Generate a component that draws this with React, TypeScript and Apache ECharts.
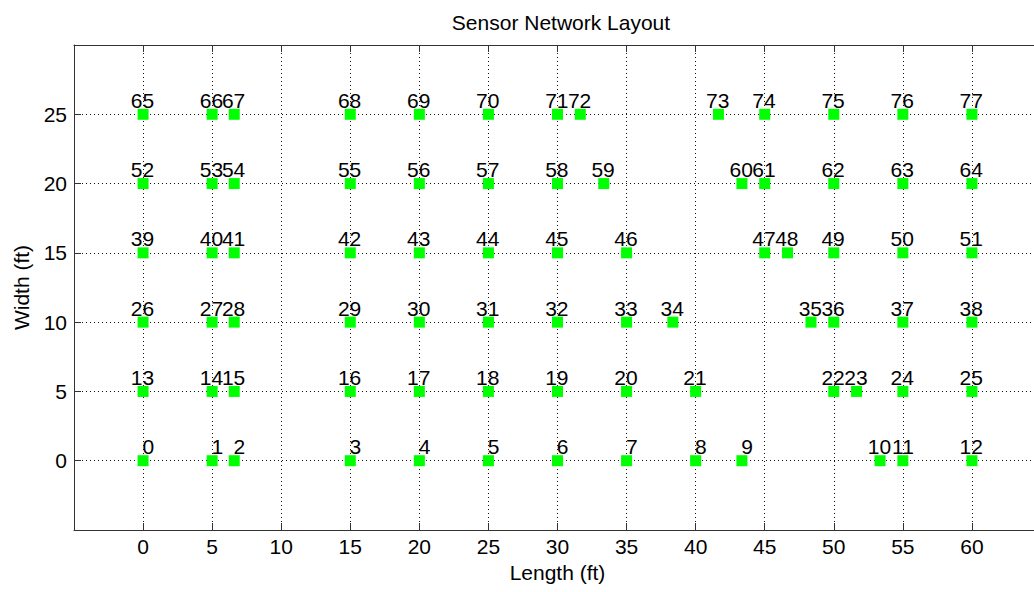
import React, { useEffect, useRef } from "react";
import * as echarts from "echarts";

const titleText = "Sensor Network Layout";
const xName = "Length (ft)";
const yName = "Width (ft)";

// node coordinates, index = node id
const nodeX = [
  0, 5, 6.6, 15, 20, 25, 30, 35, 40, 43.35, 53.35, 55, 60,
  0, 5, 6.6, 15, 20, 25, 30, 35, 40, 50, 51.65, 55, 60,
  0, 5, 6.6, 15, 20, 25, 30, 35, 38.35, 48.35, 50, 55, 60,
  0, 5, 6.6, 15, 20, 25, 30, 35, 45, 46.65, 50, 55, 60,
  0, 5, 6.6, 15, 20, 25, 30, 33.35, 43.35, 45, 50, 55, 60,
  0, 5, 6.6, 15, 20, 25, 30, 31.65, 41.65, 45, 50, 55, 60,
];
const nodeY = [
  0, 0, 0, 0, 0, 0, 0, 0, 0, 0, 0, 0, 0,
  5, 5, 5, 5, 5, 5, 5, 5, 5, 5, 5, 5, 5,
  10, 10, 10, 10, 10, 10, 10, 10, 10, 10, 10, 10, 10,
  15, 15, 15, 15, 15, 15, 15, 15, 15, 15, 15, 15, 15,
  20, 20, 20, 20, 20, 20, 20, 20, 20, 20, 20, 20, 20,
  25, 25, 25, 25, 25, 25, 25, 25, 25, 25, 25, 25, 25,
];

const xMin = -5, xMax = 65, yMin = -5, yMax = 30, step = 5;

const FONT = "Liberation Sans, Arial, Helvetica, sans-serif";
const FS = 21;
const AXIS_COLOR = "#333";

export default function App() {
  const ref = useRef<HTMLDivElement>(null);
  useEffect(() => {
    if (!ref.current) return;
    const chart = echarts.init(ref.current, undefined, { renderer: "svg" });
    const data = nodeX.map((x, i) => [x, nodeY[i], i]);
    const hideEnds = (lo: number, hi: number) => (v: number) =>
      v <= lo || v >= hi ? "" : String(v);
    const dotted = { color: "#111", width: 1, type: [1, 3] as any };
    const baseX = {
      type: "value" as const,
      min: xMin,
      max: xMax,
      interval: step,
      axisLine: { show: true, onZero: false, lineStyle: { color: AXIS_COLOR, width: 1 } },
      axisTick: { show: true, inside: true, length: 7, lineStyle: { color: AXIS_COLOR } },
    };
    const baseY = {
      type: "value" as const,
      min: yMin,
      max: yMax,
      interval: step,
      axisLine: { show: true, onZero: false, lineStyle: { color: AXIS_COLOR, width: 1 } },
      axisTick: { show: true, inside: true, length: 7, lineStyle: { color: AXIS_COLOR } },
    };
    chart.setOption({
      animation: false,
      backgroundColor: "#fff",
      textStyle: { fontFamily: FONT },
      title: {
        text: titleText,
        left: 556,
        top: 7,
        textAlign: "center",
        textStyle: { fontFamily: FONT, fontSize: FS, fontWeight: "normal", color: "#000" },
      },
      grid: {
        left: 74,
        top: 45,
        right: -7,
        bottom: 62,
        containLabel: false,
        outerBoundsMode: "none",
      },
      xAxis: [
        {
          ...baseX,
          position: "bottom",
          name: xName,
          nameLocation: "middle",
          nameGap: 30,
          nameTextStyle: { fontFamily: FONT, fontSize: FS, color: "#000", verticalAlign: "top" },
          axisLabel: {
            formatter: hideEnds(xMin, xMax),
            fontFamily: FONT,
            fontSize: FS,
            color: "#000",
            margin: 6,
          },
          splitLine: { show: true, lineStyle: dotted },
        },
        {
          ...baseX,
          position: "top",
          axisLabel: { show: false },
          splitLine: { show: false },
        },
      ],
      yAxis: [
        {
          ...baseY,
          position: "left",
          name: yName,
          nameLocation: "middle",
          nameGap: 42,
          nameRotate: 90,
          nameTextStyle: { fontFamily: FONT, fontSize: FS, color: "#000" },
          axisLabel: {
            formatter: hideEnds(yMin, yMax),
            fontFamily: FONT,
            fontSize: FS,
            color: "#000",
            margin: 7,
          },
          splitLine: { show: true, lineStyle: dotted },
        },
        {
          ...baseY,
          position: "right",
          axisLabel: { show: false },
          splitLine: { show: false },
        },
      ],
      series: [
        {
          type: "scatter",
          xAxisIndex: 0,
          yAxisIndex: 0,
          symbol: "rect",
          symbolSize: 11,
          itemStyle: { color: "#00ff00", opacity: 1 },
          data,
          label: {
            show: true,
            position: [16.5, -8.5],
            align: "right",
            verticalAlign: "middle",
            formatter: (p: any) => String(p.value[2]),
            fontFamily: FONT,
            fontSize: FS,
            color: "#000",
          },
          labelLayout: { hideOverlap: false },
          emphasis: { disabled: true },
        },
      ],
    });
    return () => chart.dispose();
  }, []);
  return (
    <div
      ref={ref}
      style={{ position: "fixed", left: 0, top: 0, width: 1034, height: 592, background: "#fff" }}
    />
  );
}
